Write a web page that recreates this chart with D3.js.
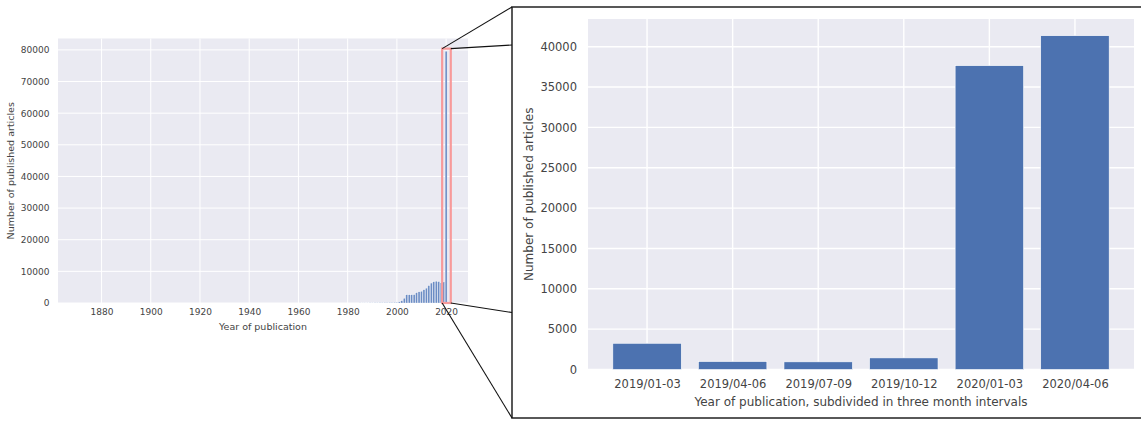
<!DOCTYPE html>
<html>
<head>
<meta charset="utf-8">
<script src="https://cdn.jsdelivr.net/npm/d3@7"></script>
<style>
  html, body { margin: 0; padding: 0; background: #ffffff; }
  svg { display: block; font-family: "DejaVu Sans", sans-serif; }
</style>
</head>
<body>
<svg id="chart" width="1141" height="421"></svg>
<script>
// ---------- data (left: yearly totals) ----------
const years = [1985,1986,1987,1988,1989,1990,1991,1992,1993,1994,1995,1996,1997,1998,1999,2000,
               2001,2002,2003,2004,2005,2006,2007,2008,2009,2010,2011,2012,2013,2014,2015,2016,2017,2018,2019,2020];
const yearCounts = [40,50,60,60,70,80,90,100,110,120,130,140,150,160,180,200,
                    350,700,1500,2600,2600,2600,2650,3250,3550,3700,4200,4700,5500,6300,6700,6900,6750,6400,6630,79600];
const leftYTicks = [0,10000,20000,30000,40000,50000,60000,70000,80000];
const leftXTicks = [1880,1900,1920,1940,1960,1980,2000,2020];

// ---------- data (right: quarterly) ----------
const quarters = ["2019/01-03","2019/04-06","2019/07-09","2019/10-12","2020/01-03","2020/04-06"];
const quarterCounts = [3250, 990, 950, 1440, 37650, 41360];
const rightYTicks = [0,5000,10000,15000,20000,25000,30000,35000,40000];

const svg = d3.select("#chart");
const BG = "#eaeaf2", BAR = "#4c72b0", TXT = "#444444";

// ================= LEFT CHART =================
const L = {x0: 58, x1: 468, y0: 38.5, y1: 303};
const lx = d3.scaleLinear().domain([1862.3, 2028.9]).range([L.x0, L.x1]);
const ly = d3.scaleLinear().domain([0, 83600]).range([L.y1, L.y0]);

svg.append("rect").attr("x", L.x0).attr("y", L.y0)
   .attr("width", L.x1 - L.x0).attr("height", L.y1 - L.y0).attr("fill", BG);

// grid
svg.append("g").selectAll("line").data(leftYTicks).join("line")
   .attr("x1", L.x0).attr("x2", L.x1).attr("y1", d => ly(d)).attr("y2", d => ly(d))
   .attr("stroke", "#fff").attr("stroke-width", 1);
svg.append("g").selectAll("line").data(leftXTicks).join("line")
   .attr("y1", L.y0).attr("y2", L.y1).attr("x1", d => lx(d)).attr("x2", d => lx(d))
   .attr("stroke", "#fff").attr("stroke-width", 1);

// bars
const lbw = lx(0.8) - lx(0);
svg.append("g").selectAll("rect").data(years).join("rect")
   .attr("x", (d) => lx(d - 0.4))
   .attr("width", lbw)
   .attr("y", (d, i) => ly(yearCounts[i]))
   .attr("height", (d, i) => ly(0) - ly(yearCounts[i]))
   .attr("fill", "#6b8cc4")
   .attr("stroke", "#ffffff").attr("stroke-width", 0.3);

// axes
const lyAxis = svg.append("g").attr("transform", `translate(${L.x0},0)`)
   .call(d3.axisLeft(ly).tickValues(leftYTicks).tickSize(0).tickPadding(8.5).tickFormat(d3.format("d")));
const lxAxis = svg.append("g").attr("transform", `translate(0,${L.y1})`)
   .call(d3.axisBottom(lx).tickValues(leftXTicks).tickSize(0).tickPadding(6).tickFormat(d3.format("d")));
[lyAxis, lxAxis].forEach(a => {
  a.select(".domain").remove();
  a.selectAll("text").attr("fill", TXT).style("font-size", "9px").style("font-family", "DejaVu Sans");
});

svg.append("text").attr("x", (L.x0 + L.x1) / 2).attr("y", 330)
   .attr("text-anchor", "middle").attr("fill", TXT).style("font-size", "9.5px")
   .text("Year of publication");
svg.append("text").attr("transform", `translate(14,${(L.y0 + L.y1) / 2}) rotate(-90)`)
   .attr("text-anchor", "middle").attr("fill", TXT).style("font-size", "9.5px")
   .text("Number of published articles");

// zoom highlight rectangle
const hx0 = lx(2018.4), hx1 = lx(2021.9), hy0 = ly(80400), hy1 = ly(0);
svg.append("rect").attr("x", hx0).attr("y", hy0).attr("width", hx1 - hx0).attr("height", hy1 - hy0)
   .attr("fill", "none").attr("stroke", "#f79a9a").attr("stroke-width", 2.2);

// ================= RIGHT PANEL FRAME =================
const F = {x: 512, y: 7, w: 640, h: 411};
svg.append("rect").attr("x", F.x).attr("y", F.y).attr("width", F.w).attr("height", F.h)
   .attr("fill", "#fff").attr("stroke", "#222").attr("stroke-width", 1.5);

// connector lines
const conn = [
  [hx0, hy0, F.x, F.y],
  [hx1, hy0, F.x, 45],
  [hx1, hy1, F.x, 312.5],
  [hx0, hy1, F.x, F.y + F.h]
];
svg.append("g").selectAll("line").data(conn).join("line")
   .attr("x1", d => d[0]).attr("y1", d => d[1]).attr("x2", d => d[2]).attr("y2", d => d[3])
   .attr("stroke", "#111").attr("stroke-width", 1.1);

// ================= RIGHT CHART =================
const R = {x0: 588, x1: 1134, y0: 19, y1: 369.5};
const rx = d3.scaleLinear().domain([-0.69, quarters.length - 1 + 0.69]).range([R.x0, R.x1]);
const ry = d3.scaleLinear().domain([0, 43430]).range([R.y1, R.y0]);

svg.append("rect").attr("x", R.x0).attr("y", R.y0)
   .attr("width", R.x1 - R.x0).attr("height", R.y1 - R.y0).attr("fill", BG);

svg.append("g").selectAll("line").data(rightYTicks).join("line")
   .attr("x1", R.x0).attr("x2", R.x1).attr("y1", d => ry(d)).attr("y2", d => ry(d))
   .attr("stroke", "#fff").attr("stroke-width", 1.4);
svg.append("g").selectAll("line").data(quarters).join("line")
   .attr("y1", R.y0).attr("y2", R.y1).attr("x1", (d, i) => rx(i)).attr("x2", (d, i) => rx(i))
   .attr("stroke", "#fff").attr("stroke-width", 1.4);

const rbw = rx(0.8) - rx(0);
svg.append("g").selectAll("rect").data(quarters).join("rect")
   .attr("x", (d, i) => rx(i - 0.4))
   .attr("width", rbw)
   .attr("y", (d, i) => ry(quarterCounts[i]))
   .attr("height", (d, i) => ry(0) - ry(quarterCounts[i]))
   .attr("fill", BAR).attr("stroke", "#ffffff").attr("stroke-width", 0.6);

const ryAxis = svg.append("g").attr("transform", `translate(${R.x0},0)`)
   .call(d3.axisLeft(ry).tickValues(rightYTicks).tickSize(0).tickPadding(11).tickFormat(d3.format("d")));
const rxAxis = svg.append("g").attr("transform", `translate(0,${R.y1})`)
   .call(d3.axisBottom(d3.scalePoint().domain(quarters).range([rx(0), rx(quarters.length - 1)]))
   .tickSize(0).tickPadding(10));
[ryAxis, rxAxis].forEach(a => {
  a.select(".domain").remove();
  a.selectAll("text").attr("fill", TXT).style("font-size", "11.5px").style("font-family", "DejaVu Sans");
});

svg.append("text").attr("x", (R.x0 + R.x1) / 2).attr("y", 405.5)
   .attr("text-anchor", "middle").attr("fill", TXT).style("font-size", "12px")
   .text("Year of publication, subdivided in three month intervals");
svg.append("text").attr("transform", `translate(533,${(R.y0 + R.y1) / 2}) rotate(-90)`)
   .attr("text-anchor", "middle").attr("fill", TXT).style("font-size", "12px")
   .text("Number of published articles");
</script>
</body>
</html>
